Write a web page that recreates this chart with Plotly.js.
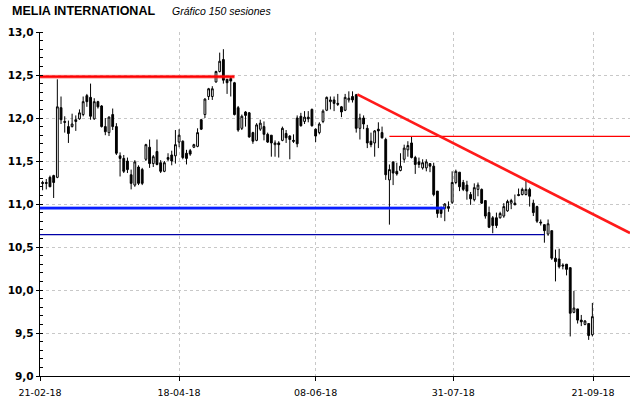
<!DOCTYPE html>
<html>
<head>
<meta charset="utf-8">
<script src="https://cdn.plot.ly/plotly-3.0.1.min.js"></script>
<style>html,body{margin:0;padding:0;background:#fff;}#chart{width:640px;height:398px;}</style>
</head>
<body>
<div id="chart"></div>
<script>
// Session OHLC values (150 sessions, 21-02-18 .. 21-09-18)
const openV = [
11.25,11.25,11.31,11.33,11.31,12.12,11.96,11.90,11.90,11.98,
11.99,12.04,12.26,12.24,11.99,12.19,12.14,11.90,11.83,12.04,
11.90,11.56,11.53,11.50,11.34,11.22,11.43,11.40,11.52,11.66,
11.47,11.61,11.48,11.38,11.54,11.57,11.56,11.72,11.73,11.59,
11.62,11.66,11.67,11.98,12.04,12.25,12.25,12.42,12.54,12.68,
12.45,12.46,12.41,12.12,11.88,12.07,12.06,11.83,11.74,11.87,
11.90,11.81,11.80,11.69,11.71,11.74,11.82,11.79,11.74,12.00,
12.02,11.96,12.01,12.10,11.87,11.83,11.96,12.09,12.19,12.21,
12.17,12.13,12.09,12.21,12.25,12.27,11.88,12.00,11.88,11.73,
11.71,11.87,11.83,11.75,11.28,11.49,11.38,11.39,11.52,11.63,
11.71,11.54,11.49,11.42,11.42,11.47,11.44,11.15,10.96,10.95,
10.97,11.02,11.25,11.37,11.25,11.22,11.11,11.05,11.17,11.17,
11.04,10.90,10.84,10.84,10.84,10.86,10.92,11.01,11.01,11.11,
11.11,11.11,11.17,11.01,10.97,10.79,10.76,10.65,10.69,10.37,
10.36,10.29,10.30,10.26,9.74,9.78,9.65,9.60,9.61,9.48];
const highV = [
11.27,11.29,11.33,11.34,12.45,12.25,12.02,11.97,12.05,12.03,
12.10,12.25,12.28,12.40,12.23,12.20,12.15,12.00,12.02,12.11,
11.94,11.60,11.57,11.54,11.40,11.51,11.45,11.42,11.70,11.75,
11.57,11.75,11.51,11.50,11.59,11.62,11.86,11.87,11.74,11.63,
11.64,11.70,11.88,11.99,12.23,12.35,12.37,12.55,12.76,12.80,
12.45,12.48,12.42,12.14,12.04,12.08,12.07,11.84,11.94,11.98,
11.96,11.83,11.80,11.74,11.73,11.90,11.86,11.80,11.81,12.03,
12.06,12.08,12.08,12.11,11.88,11.95,12.10,12.25,12.25,12.25,
12.28,12.14,12.28,12.31,12.31,12.28,12.05,12.03,11.92,11.83,
11.86,11.95,11.90,11.77,11.46,11.49,11.48,11.59,11.69,11.73,
11.79,11.56,11.54,11.52,11.52,11.47,11.48,11.15,10.97,11.01,
11.03,11.38,11.40,11.37,11.28,11.27,11.14,11.24,11.25,11.18,
11.04,10.97,10.86,10.90,10.91,11.01,11.05,11.06,11.11,11.18,
11.19,11.28,11.19,11.05,10.98,10.82,10.76,10.82,10.69,10.47,
10.48,10.31,10.30,10.26,9.99,9.78,9.71,9.65,9.61,9.85];
const lowV = [
11.16,11.17,11.20,11.07,11.30,11.93,11.83,11.71,11.89,11.85,
11.98,12.02,12.13,11.98,11.98,12.11,11.89,11.80,11.79,11.86,
11.57,11.32,11.36,11.36,11.17,11.20,11.22,11.22,11.50,11.42,
11.43,11.45,11.36,11.37,11.50,11.45,11.47,11.66,11.52,11.46,
11.56,11.65,11.66,11.86,12.00,12.21,12.21,12.41,12.53,12.40,
12.28,12.25,12.03,11.84,11.86,11.90,11.77,11.70,11.73,11.85,
11.74,11.71,11.55,11.55,11.54,11.73,11.71,11.52,11.71,11.66,
11.90,11.93,11.95,11.90,11.72,11.81,11.94,12.08,12.10,12.08,
12.14,12.01,12.08,12.18,12.18,11.83,11.75,11.87,11.65,11.66,
11.55,11.65,11.76,11.28,10.76,11.22,11.33,11.38,11.48,11.55,
11.53,11.35,11.42,11.40,11.38,11.37,11.09,10.84,10.84,10.80,
10.91,11.00,11.23,11.15,11.15,11.05,10.99,11.03,11.09,11.00,
10.83,10.72,10.66,10.72,10.83,10.84,10.91,10.94,10.99,11.09,
11.10,11.10,10.97,10.86,10.78,10.75,10.55,10.63,10.35,10.10,
10.25,10.24,10.17,9.46,9.73,9.61,9.58,9.59,9.42,9.46];
const closeV = [
11.24,11.24,11.20,11.25,12.13,11.98,11.95,11.82,11.93,11.96,
12.06,12.19,12.19,12.02,12.19,12.13,11.90,11.84,12.01,11.90,
11.59,11.53,11.38,11.40,11.24,11.49,11.24,11.24,11.69,11.47,
11.55,11.46,11.38,11.48,11.52,11.50,11.69,11.80,11.54,11.53,
11.58,11.69,11.83,11.87,12.22,12.34,12.34,12.54,12.66,12.44,
12.41,12.43,12.04,11.86,12.02,12.03,11.78,11.73,11.92,11.94,
11.81,11.72,11.71,11.71,11.69,11.88,11.77,11.75,11.73,11.70,
11.91,12.01,11.99,11.91,11.79,11.93,12.08,12.24,12.21,12.17,
12.16,12.07,12.24,12.23,12.21,11.88,12.00,11.93,11.71,11.69,
11.85,11.85,11.77,11.34,11.40,11.36,11.35,11.44,11.65,11.68,
11.54,11.46,11.46,11.48,11.49,11.44,11.11,10.89,10.89,11.00,
10.95,11.25,11.38,11.20,11.17,11.15,11.06,11.19,11.22,11.01,
10.86,10.73,10.75,10.75,10.89,10.97,11.03,11.04,10.99,11.10,
11.17,11.17,11.09,10.90,10.80,10.78,10.69,10.77,10.37,10.33,
10.27,10.28,10.24,9.73,9.79,9.65,9.63,9.64,9.47,9.69];

// Date axis labels and the session index where each falls
const tickLabels = ['21-02-18','18-04-18','08-06-18','31-07-18','21-09-18'];
const tickSessions = [-0.7, 37, 74, 111.3, 149.2];

// Drawn support / resistance lines: session index and price at each end
const resistTopX = [-0.7, 52];      const resistTopY = [12.48, 12.48];
const supportX = [-0.7, 109];       const supportY = [10.953, 10.953];
const lowLineX = [-0.7, 136];       const lowLineY = [10.643, 10.643];
const midResistX = [94, 159.2];     const midResistY = [11.786, 11.786];
const trendX = [85.3, 159.2];       const trendY = [12.274, 10.663];

const sessions = openV.map((_, i) => i);

const traces = [
  {type:'scatter', mode:'lines', x: lowLineX, y: lowLineY, line:{color:'#0000a8', width:1.2}, hoverinfo:'skip'},
  {type:'scatter', mode:'lines', x: supportX, y: supportY, line:{color:'rgba(40,70,255,0.4)', width:4}, hoverinfo:'skip'},
  {type:'scatter', mode:'lines', x: supportX, y: supportY, line:{color:'#0a1eff', width:2.2}, hoverinfo:'skip'},
  {type:'scatter', mode:'lines', x: resistTopX, y: resistTopY, line:{color:'rgba(255,40,40,0.4)', width:4}, hoverinfo:'skip'},
  {type:'scatter', mode:'lines', x: resistTopX, y: resistTopY, line:{color:'#ff0000', width:2.2}, hoverinfo:'skip'},
  {type:'candlestick', x: sessions, open: openV, high: highV, low: lowV, close: closeV,
   increasing:{line:{color:'#000000', width:1}, fillcolor:'#ffffff'},
   decreasing:{line:{color:'#000000', width:1}, fillcolor:'#000000'},
   whiskerwidth:0, hoverinfo:'skip'},
  {type:'scatter', mode:'lines', x: midResistX, y: midResistY, line:{color:'#ff0000', width:1.3}, hoverinfo:'skip'},
  {type:'scatter', mode:'lines', x: trendX, y: trendY, line:{color:'#ff1a1a', width:2.6}, hoverinfo:'skip'}
];

const layout = {
  width: 640, height: 398,
  margin: {l:40, r:10, t:32, b:22, pad:0},
  paper_bgcolor:'#ffffff', plot_bgcolor:'#ffffff',
  showlegend:false,
  separators: ',.',
  xaxis: {
    range: [-0.7, 159.2], tickmode:'array', tickvals: tickSessions, ticktext: tickLabels,
    showgrid:true, gridcolor:'#c8c8c8', griddash:'dot', gridwidth:1,
    showline:true, linecolor:'#000000', linewidth:1.3, zeroline:false,
    ticks:'outside', ticklen:4, tickcolor:'#000000', tickwidth:1,
    ticklabelstandoff: 3,
    tickfont:{family:'DejaVu Sans, sans-serif', size:9.5, color:'#000000'},
    rangeslider:{visible:false}, fixedrange:true
  },
  yaxis: {
    range: [9, 13], tick0: 9, dtick: 0.5, tickformat: '.1f',
    showgrid:true, gridcolor:'#c8c8c8', griddash:'dot', gridwidth:1,
    showline:true, linecolor:'#000000', linewidth:1.3, zeroline:false,
    ticks:'outside', ticklen:3, tickcolor:'#000000', tickwidth:1,
    minor:{dtick:0.1, ticks:'inside', ticklen:3, tickcolor:'#000000', showgrid:false},
    tickfont:{family:'DejaVu Sans, sans-serif', size:10.5, color:'#000000', weight:'bold'},
    fixedrange:true
  },
  annotations: [
    {xref:'paper', yref:'paper', x:(10-40)/590, y:(376-10.5)/344, xanchor:'left', yanchor:'middle',
     text:'MELIA INTERNATIONAL', showarrow:false,
     font:{family:'Liberation Sans, Arial, sans-serif', size:12.5, color:'#000000', weight:'bold'}},
    {xref:'paper', yref:'paper', x:(170-40)/590, y:(376-11)/344, xanchor:'left', yanchor:'middle',
     text:'<i>Gráfico 150 sesiones</i>', showarrow:false,
     font:{family:'Liberation Sans, Arial, sans-serif', size:10.5, color:'#000000'}}
  ]
};

Plotly.newPlot('chart', traces, layout, {staticPlot:true, displayModeBar:false});
</script>
</body>
</html>
